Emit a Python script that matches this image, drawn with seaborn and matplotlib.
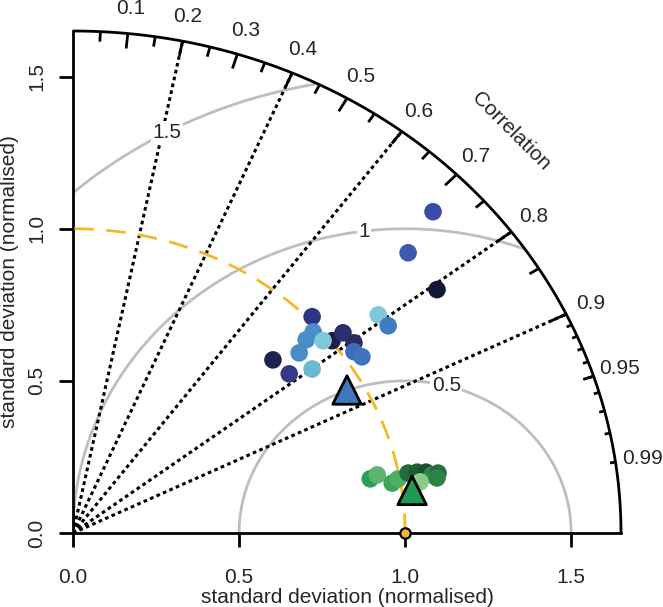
import numpy as np
import pandas as pd
import matplotlib
matplotlib.use("Agg")
import matplotlib.pyplot as plt
import seaborn as sns

# ---------------- data ----------------
max_sd = 1.65
ref_sd = 1.0
sd_ticks = [0.0, 0.5, 1.0, 1.5]
sd_tick_labels = ["0.0", "0.5", "1.0", "1.5"]
corr_labels = [0.1, 0.2, 0.3, 0.4, 0.5, 0.6, 0.7, 0.8, 0.9, 0.95, 0.99]
corr_lines = [0.2, 0.4, 0.6, 0.8, 0.9]
rms_levels = [0.5, 1.0, 1.5]
rms_label_angles = [75.6, 97.1, 118.6]  # degrees around reference point

blue_x = [0.720, 0.919, 0.949, 0.723, 0.702, 0.780, 0.753, 0.813, 0.846,
          0.846, 0.870, 0.681, 0.602, 0.651, 0.720, 1.084, 1.009, 1.096]
blue_y = [0.711, 0.717, 0.681, 0.661, 0.635, 0.632, 0.632, 0.658, 0.625,
          0.596, 0.579, 0.592, 0.569, 0.523, 0.539, 1.056, 0.921, 0.800]
blue_colors = ["#2E3580", "#7EC8DA", "#3F7CC4", "#4A8ECB", "#4A8CC6", "#1A1E48",
               "#7FC8D8", "#2B2F6E", "#2A2C62", "#3D6DB8", "#3F73BE", "#4A8CC4",
               "#1D2150", "#333A88", "#69B9D3", "#3A4CA8", "#3F58B0", "#141833"]

green_x = [0.895, 0.916, 0.961, 0.979, 1.009, 1.036, 1.063, 1.081, 1.099, 1.096, 1.045]
green_y = [0.178, 0.191, 0.164, 0.178, 0.197, 0.200, 0.200, 0.191, 0.197, 0.181, 0.168]
green_colors = ["#2E9E57", "#5CB56A", "#3DA55C", "#4FAE62", "#1F6B3A", "#1C5C33",
                "#1A4F2E", "#2F8A4A", "#236C3B", "#2A8447", "#8ACB8A"]

mean_x = [0.825, 1.021]
mean_y = [0.470, 0.140]
mean_colors = ["#3F78BE", "#1E9A55"]

# ---------------- style ----------------
sns.set_theme(style="white")
plt.rcParams["font.family"] = ["Liberation Sans", "DejaVu Sans"]
FS = 15

fig = plt.figure(figsize=(6.63, 6.07), dpi=100)
ax = fig.add_axes([73 / 663, (607 - 533) / 607, 548 / 663, 502 / 607])
ax.set_xlim(0, max_sd)
ax.set_ylim(0, max_sd)

YELLOW = "#F5B72A"
GREY = "#BEBEBE"

# correlation lines (dotted)
for c in corr_lines:
    ax.plot([0, max_sd * c], [0, max_sd * np.sqrt(1 - c * c)],
            color="black", lw=2.2, ls=(0, (1.2, 1.1)), zorder=2)

# centred RMS arcs
for lev, la in zip(rms_levels, rms_label_angles):
    t = np.linspace(0, np.pi, 600)
    xc = ref_sd + lev * np.cos(t)
    yc = lev * np.sin(t)
    ok = (xc >= 0) & (xc ** 2 + yc ** 2 <= max_sd ** 2)
    xc = np.where(ok, xc, np.nan)
    yc = np.where(ok, yc, np.nan)
    ax.plot(xc, yc, color=GREY, lw=2.0, zorder=1.5)
    lx = ref_sd + lev * np.cos(np.radians(la))
    ly = lev * np.sin(np.radians(la))
    lab = "1" if lev == 1.0 else f"{lev:g}"
    ax.text(lx, ly, lab, fontsize=FS, ha="center", va="center", zorder=2.5,
            bbox=dict(facecolor="white", edgecolor="none", pad=1.0))

# reference sd arc (dashed yellow)
t = np.linspace(0, np.pi / 2, 300)
ax.plot(ref_sd * np.cos(t), ref_sd * np.sin(t), color=YELLOW, lw=2.0,
        ls=(0, (7, 4.5)), zorder=3, clip_on=False)

# outer arc
t = np.linspace(0, np.pi / 2, 400)
ax.plot(max_sd * np.cos(t), max_sd * np.sin(t), color="black", lw=2.0,
        zorder=4, clip_on=False, solid_capstyle="butt")

# correlation ticks
big = np.arccos(np.arange(0.1, 0.91, 0.1))
med = np.arccos(np.arange(0.05, 0.96, 0.1))
sml = np.arccos(np.arange(0.91, 0.995, 0.01))
for angs, f in ((big, 0.97), (med, 0.98), (sml, 0.99)):
    for a in angs:
        ax.plot([np.cos(a) * max_sd, np.cos(a) * f * max_sd],
                [np.sin(a) * max_sd, np.sin(a) * f * max_sd],
                color="black", lw=2.0, zorder=4, clip_on=False,
                solid_capstyle="butt")

for c in corr_labels:
    a = np.arccos(c)
    ax.text(np.cos(a) * 1.05 * max_sd, np.sin(a) * 1.05 * max_sd, f"{c:g}",
            fontsize=FS, ha="center", va="center", clip_on=False)
ax.text(0.8 * max_sd, 0.8 * max_sd, "Correlation", fontsize=FS, rotation=-45,
        ha="center", va="center", rotation_mode="anchor")

# points
blue_df = pd.DataFrame({"sd": blue_x, "y": blue_y, "id": range(len(blue_x))})
sns.scatterplot(data=blue_df, x="sd", y="y", hue="id", palette=blue_colors,
                s=160, linewidth=0, legend=False, ax=ax, zorder=5)
green_df = pd.DataFrame({"sd": green_x, "y": green_y, "id": range(len(green_x))})
sns.scatterplot(data=green_df, x="sd", y="y", hue="id", palette=green_colors,
                s=160, linewidth=0, legend=False, ax=ax, zorder=5)
mean_df = pd.DataFrame({"sd": mean_x, "y": mean_y, "id": range(len(mean_x))})
sns.scatterplot(data=mean_df, x="sd", y="y", hue="id", palette=mean_colors,
                marker="^", s=420, edgecolor="black", linewidth=2.0,
                legend=False, ax=ax, zorder=6)

# reference point
ax.plot([ref_sd], [0], marker="o", ms=7.5, mfc=YELLOW, mec="black", mew=1.6,
        zorder=7, clip_on=False)

# axes
for s in ("top", "right"):
    ax.spines[s].set_visible(False)
for s in ("left", "bottom"):
    ax.spines[s].set_linewidth(2.0)
    ax.spines[s].set_color("black")
ax.set_xticks(sd_ticks)
ax.set_xticklabels(sd_tick_labels)
ax.set_yticks(sd_ticks)
ax.set_yticklabels(sd_tick_labels, rotation=90, va="center")
ax.tick_params(axis="both", direction="out", length=10, width=2.0,
               color="black", labelsize=FS, bottom=True, left=True)
ax.tick_params(axis="x", pad=15)
ax.tick_params(axis="y", pad=9)
ax.set_xlabel("standard deviation (normalised)", fontsize=FS, labelpad=1)
ax.set_ylabel("standard deviation (normalised)", fontsize=FS, labelpad=6)
ax.grid(False)
ax.set_facecolor("white")

fig.savefig("out.png", dpi=100, facecolor="white")
